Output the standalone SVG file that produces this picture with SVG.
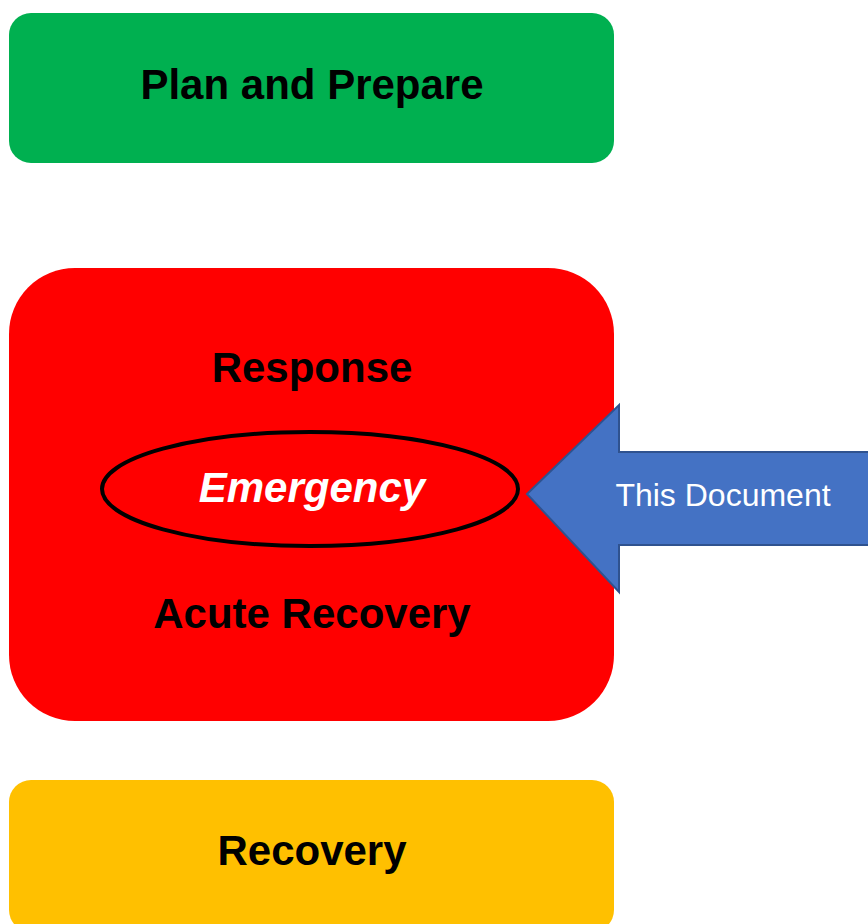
<svg xmlns="http://www.w3.org/2000/svg" width="868" height="924" viewBox="0 0 868 924">
  <style>
    .lbl { font-family: "Liberation Sans", Arial, sans-serif; font-weight: bold; font-size: 42px; fill: #000; text-anchor: middle; }
    .emg { font-family: "Liberation Sans", Arial, sans-serif; font-weight: bold; font-style: italic; font-size: 42px; fill: #fff; text-anchor: middle; }
    .doc { font-family: "Liberation Sans", Arial, sans-serif; font-size: 32px; fill: #fff; text-anchor: middle; }
  </style>
  <rect width="868" height="924" fill="#fff"/>

  <g id="plan">
    <rect x="9" y="13" width="605" height="150" rx="22" fill="#00B050"/>
    <text class="lbl" x="312" y="99">Plan and Prepare</text>
  </g>

  <g id="response">
    <rect x="9" y="268" width="605" height="453" rx="66" fill="#FF0000"/>
    <text class="lbl" x="312" y="382">Response</text>
    <text class="lbl" x="312" y="628">Acute Recovery</text>
  </g>

  <g id="emergency">
    <ellipse cx="310" cy="489" rx="208" ry="57" fill="#FF0000" stroke="#000" stroke-width="4"/>
    <text class="emg" x="312" y="502">Emergency</text>
  </g>

  <g id="recovery">
    <rect x="9" y="780" width="605" height="152" rx="22" fill="#FFC000"/>
    <text class="lbl" x="312" y="865">Recovery</text>
  </g>

  <g id="connectors">
    <g id="this-document">
      <path d="M527,494 L619,405 L619,452 L870,452 L870,545 L619,545 L619,592 Z" fill="#4472C4" stroke="#2F528F" stroke-width="2" stroke-linejoin="miter"/>
      <text class="doc" x="723" y="506">This Document</text>
    </g>
  </g>
</svg>
